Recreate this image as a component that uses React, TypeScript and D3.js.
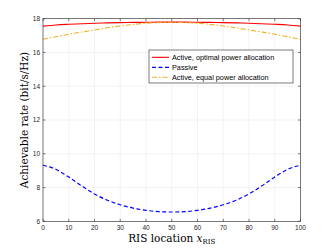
import * as d3 from 'd3'

// RIS location samples (x axis)
const xLoc = [0, 5, 10, 15, 20, 25, 30, 35, 40, 45, 50, 55, 60, 65, 70, 75, 80, 85, 90, 95, 100]
const activeOptimal = [17.56, 17.63, 17.67, 17.7, 17.73, 17.75, 17.77, 17.78, 17.79, 17.8, 17.8, 17.8, 17.79, 17.78, 17.77, 17.75, 17.73, 17.7, 17.67, 17.63, 17.56]
const passive = [9.32, 9.08, 8.62, 8.1, 7.62, 7.25, 6.98, 6.78, 6.65, 6.57, 6.55, 6.57, 6.65, 6.78, 6.98, 7.25, 7.62, 8.1, 8.62, 9.08, 9.32]
const activeEqual = [16.78, 16.93, 17.08, 17.21, 17.33, 17.46, 17.57, 17.66, 17.73, 17.77, 17.79, 17.77, 17.73, 17.66, 17.57, 17.46, 17.33, 17.21, 17.08, 16.93, 16.78]
const xTicks = [0, 10, 20, 30, 40, 50, 60, 70, 80, 90, 100]
const yTicks = [6, 8, 10, 12, 14, 16, 18]
const legendLabels = ['Active, optimal power allocation', 'Passive', 'Active, equal power allocation']

const W = 332
const H = 249
const m = { left: 43, right: 31.5, top: 18.7, bottom: 27.7 }

export default function App() {
  const x = d3.scaleLinear().domain([0, 100]).range([m.left, W - m.right])
  const y = d3.scaleLinear().domain([6, 18]).range([H - m.bottom, m.top])
  const line = (vals: number[]) =>
    d3.line<number>().x((_, i) => x(xLoc[i])).y((d) => y(d)).curve(d3.curveMonotoneX)(vals) || ''

  const series = [
    { vals: activeOptimal, color: '#ff0000', dash: 'none', width: 1.1 },
    { vals: passive, color: '#0000ff', dash: '4,2.5', width: 1.2 },
    { vals: activeEqual, color: '#edb120', dash: '5,2,1.5,2', width: 1.1 },
  ]
  const axisColor = '#262626'
  const x0 = m.left
  const x1 = W - m.right
  const y0 = H - m.bottom
  const y1 = m.top
  const tick = 2.5

  // legend box
  const lg = { x: 149, y: 50, w: 144, h: 33 }

  return (
    <svg width={W} height={H} style={{ position: 'absolute', left: 0, top: 0, background: '#fff' }}>
      {/* grid */}
      {xTicks.map((t) => (
        <line key={'gx' + t} x1={x(t)} x2={x(t)} y1={y0} y2={y1} stroke="#ebebeb" strokeWidth={0.6} />
      ))}
      {yTicks.map((t) => (
        <line key={'gy' + t} x1={x0} x2={x1} y1={y(t)} y2={y(t)} stroke="#ebebeb" strokeWidth={0.6} />
      ))}
      {/* series */}
      {series.map((s, i) => (
        <path key={i} d={line(s.vals)} fill="none" stroke={s.color} strokeWidth={s.width} strokeDasharray={s.dash} />
      ))}
      {/* box */}
      <rect x={x0} y={y1} width={x1 - x0} height={y0 - y1} fill="none" stroke={axisColor} strokeWidth={0.6} />
      {xTicks.map((t) => (
        <g key={'tx' + t}>
          <line x1={x(t)} x2={x(t)} y1={y0} y2={y0 - tick} stroke={axisColor} strokeWidth={0.6} />
          <line x1={x(t)} x2={x(t)} y1={y1} y2={y1 + tick} stroke={axisColor} strokeWidth={0.6} />
          <text x={x(t)} y={y0 + 8.5} textAnchor="middle" fontSize={6.5} fontFamily="Liberation Sans, Arial, sans-serif" fill={axisColor}>
            {t}
          </text>
        </g>
      ))}
      {yTicks.map((t) => (
        <g key={'ty' + t}>
          <line x1={x0} x2={x0 + tick} y1={y(t)} y2={y(t)} stroke={axisColor} strokeWidth={0.6} />
          <line x1={x1} x2={x1 - tick} y1={y(t)} y2={y(t)} stroke={axisColor} strokeWidth={0.6} />
          <text x={x0 - 3} y={y(t) + 2.3} textAnchor="end" fontSize={6.5} fontFamily="Liberation Sans, Arial, sans-serif" fill={axisColor}>
            {t}
          </text>
        </g>
      ))}
      {/* axis labels */}
      <text x={(x0 + x1) / 2} y={242} textAnchor="middle" fontSize={10.5} fontFamily="DejaVu Serif, Liberation Serif, serif" fill="#000">
        RIS location <tspan fontStyle="italic">x</tspan>
        <tspan fontSize={7} dy={2}>RIS</tspan>
      </text>
      <text
        transform={`translate(28, ${(y0 + y1) / 2}) rotate(-90)`}
        textAnchor="middle"
        fontSize={10.5}
        fontFamily="DejaVu Serif, Liberation Serif, serif"
        fill="#000"
      >
        Achievable rate (bit/s/Hz)
      </text>
      {/* legend */}
      <rect x={lg.x} y={lg.y} width={lg.w} height={lg.h} fill="#fff" stroke={axisColor} strokeWidth={0.6} />
      {series.map((s, i) => {
        const ly = lg.y + 7.3 + i * 10
        return (
          <g key={'lg' + i}>
            <line x1={lg.x + 3} x2={lg.x + 20} y1={ly} y2={ly} stroke={s.color} strokeWidth={s.width} strokeDasharray={s.dash} />
            <text x={lg.x + 23} y={ly + 2.6} fontSize={7.3} fontFamily="Liberation Sans, Arial, sans-serif" fill="#000">
              {legendLabels[i]}
            </text>
          </g>
        )
      })}
    </svg>
  )
}
